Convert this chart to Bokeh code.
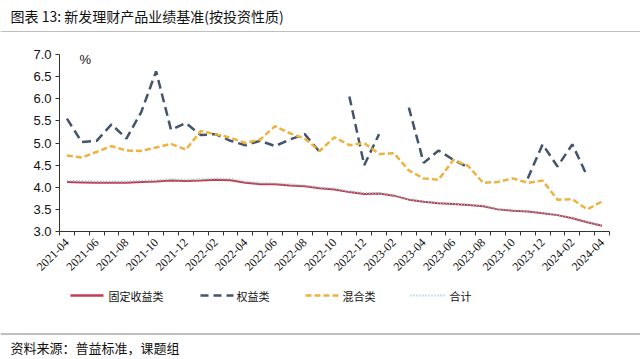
import math
from bokeh.plotting import figure
from bokeh.layouts import column
from bokeh.models import Range1d, FixedTicker, PrintfTickFormatter
from bokeh.embed import file_html
from bokeh.resources import INLINE
from bokeh.core.properties import value

nan = float("nan")

title_text = "图表 13: 新发理财产品业绩基准(按投资性质)"
source_text = "资料来源：普益标准，课题组"
unit_text = "%"

months = ["2021-04", "2021-05", "2021-06", "2021-07", "2021-08", "2021-09", "2021-10",
          "2021-11", "2021-12", "2022-01", "2022-02", "2022-03", "2022-04", "2022-05",
          "2022-06", "2022-07", "2022-08", "2022-09", "2022-10", "2022-11", "2022-12",
          "2023-01", "2023-02", "2023-03", "2023-04", "2023-05", "2023-06", "2023-07",
          "2023-08", "2023-09", "2023-10", "2023-11", "2023-12", "2024-01", "2024-02",
          "2024-03", "2024-04"]
tick_labels = months[::2]

series_names = ["固定收益类", "权益类", "混合类", "合计"]

fixed_income = [4.12, 4.11, 4.10, 4.10, 4.10, 4.12, 4.13, 4.15, 4.14, 4.15, 4.17, 4.16,
                4.10, 4.07, 4.07, 4.04, 4.02, 3.98, 3.95, 3.89, 3.85, 3.86, 3.81, 3.72,
                3.67, 3.64, 3.62, 3.60, 3.57, 3.50, 3.47, 3.45, 3.41, 3.37, 3.30, 3.21, 3.13]
equity = [5.55, 5.02, 5.05, 5.42, 5.10, 5.70, 6.62, 5.30, 5.45, 5.18, 5.20, 5.05,
          4.95, 5.05, 4.93, 5.08, 5.20, 4.80, nan, 6.05, 4.50, 5.20, nan, 5.80,
          4.55, 4.83, 4.62, 4.45, nan, nan, nan, 4.20, 4.97, 4.47, 4.97, 4.25, nan]
mixed = [4.72, 4.67, 4.80, 4.93, 4.83, 4.82, 4.90, 4.98, 4.85, 5.27, 5.20, 5.12,
         5.00, 5.08, 5.38, 5.22, 5.10, 4.82, 5.13, 4.95, 5.00, 4.75, 4.77, 4.38,
         4.20, 4.17, 4.62, 4.48, 4.10, 4.12, 4.20, 4.10, 4.15, 3.72, 3.73, 3.50, 3.68]
total = [4.15, 4.14, 4.13, 4.13, 4.13, 4.15, 4.16, 4.18, 4.17, 4.18, 4.20, 4.19,
         4.13, 4.10, 4.09, 4.07, 4.04, 4.00, 3.97, 3.91, 3.87, 3.87, 3.82, 3.73,
         3.68, 3.65, 3.63, 3.61, 3.58, 3.51, 3.48, 3.46, 3.42, 3.38, 3.31, 3.22, 3.14]

y_ticks = [3.0, 3.5, 4.0, 4.5, 5.0, 5.5, 6.0, 6.5, 7.0]

RED = "#C43A4E"
DARK = "#44546A"
GOLD = "#EDB23F"
TEAL = "#86CBD2"
CJK = value("Noto Sans CJK SC")

W = 640

# ---------- header ----------
hdr = figure(width=W, height=32, x_range=Range1d(0, W), y_range=Range1d(32, 0),
             min_border=0, x_axis_location=None, y_axis_location=None,
             outline_line_color=None, output_backend="svg", toolbar_location=None,
             frame_align=False)
hdr.grid.visible = False
hdr.text(x=[10], y=[15], text=[title_text], text_font=CJK,
         text_font_size=value("14px"), text_baseline="middle", text_color="#111111")
hdr.segment(x0=[0], y0=[31.5], x1=[W], y1=[31.5], line_color="#7F7F7F", line_width=1)

# ---------- chart ----------
x = list(range(len(months)))
p = figure(width=W, height=253, x_range=Range1d(-0.5, len(months) - 0.5),
           y_range=Range1d(3, 7), min_border_left=59, min_border_right=31,
           min_border_top=22, min_border_bottom=54, outline_line_color=None,
           output_backend="svg", toolbar_location=None, frame_align=False)
p.grid.visible = False

p.line(x, fixed_income, line_color=RED, line_width=2)
p.line(x, equity, line_color=DARK, line_width=2.5, line_dash="9 5")
p.line(x, mixed, line_color=GOLD, line_width=2.5, line_dash="6 3")
p.line(x, total, line_color=TEAL, line_width=2, line_dash="1 2")

p.text(x=[0.85], y=[6.88], text=[unit_text], text_font=value("Liberation Sans"),
       text_font_size=value("13px"), text_baseline="middle", text_color="#111111")

xa = p.xaxis[0]
xa.ticker = FixedTicker(ticks=x[::2], minor_ticks=[i - 0.5 for i in range(len(months) + 1)])
xa.major_label_overrides = {i: lbl for i, lbl in zip(x[::2], tick_labels)}
xa.major_label_orientation = math.pi / 4
xa.major_tick_out = 0
xa.major_tick_in = 0
xa.minor_tick_out = 4
xa.minor_tick_in = 0
xa.minor_tick_line_color = "#333333"
xa.axis_line_color = "#333333"
xa.major_label_standoff = 5
xa.major_label_text_font = "Liberation Serif"
xa.major_label_text_font_size = "12px"
xa.major_label_text_color = "#111111"

ya = p.yaxis[0]
ya.ticker = FixedTicker(ticks=y_ticks)
ya.formatter = PrintfTickFormatter(format="%.1f")
ya.major_tick_out = 4
ya.major_tick_in = 0
ya.minor_tick_line_color = None
ya.major_tick_line_color = "#333333"
ya.axis_line_color = "#333333"
ya.major_label_text_font = "Liberation Sans"
ya.major_label_text_font_size = "13px"
ya.major_label_text_color = "#111111"
ya.major_label_standoff = 4

# ---------- footer (legend + source) ----------
ftr = figure(width=W, height=74, x_range=Range1d(0, W), y_range=Range1d(74, 0),
             min_border=0, x_axis_location=None, y_axis_location=None,
             outline_line_color=None, output_backend="svg", toolbar_location=None,
             frame_align=False)
ftr.grid.visible = False
ly = 10
ftr.segment(x0=[70], y0=[ly], x1=[103], y1=[ly], line_color=RED, line_width=2.5)
ftr.segment(x0=[200], y0=[ly], x1=[233], y1=[ly], line_color=DARK, line_width=2.5, line_dash="8 5")
ftr.segment(x0=[305], y0=[ly], x1=[339], y1=[ly], line_color=GOLD, line_width=2.5, line_dash="6 3")
ftr.segment(x0=[410], y0=[ly], x1=[446], y1=[ly], line_color=TEAL, line_width=2, line_dash="1 2")
ftr.text(x=[108, 236, 342, 449], y=[ly] * 4, text=series_names, text_font=CJK,
         text_font_size=value("11px"), text_baseline="middle", text_color="#111111")
ftr.segment(x0=[0], y0=[48.5], x1=[W], y1=[48.5], line_color="#7F7F7F", line_width=1)
ftr.text(x=[10], y=[62], text=[source_text], text_font=CJK,
         text_font_size=value("13px"), text_baseline="middle", text_color="#111111")

layout = column(hdr, p, ftr)
open("out.html", "w").write(file_html(layout, INLINE, title="chart"))
